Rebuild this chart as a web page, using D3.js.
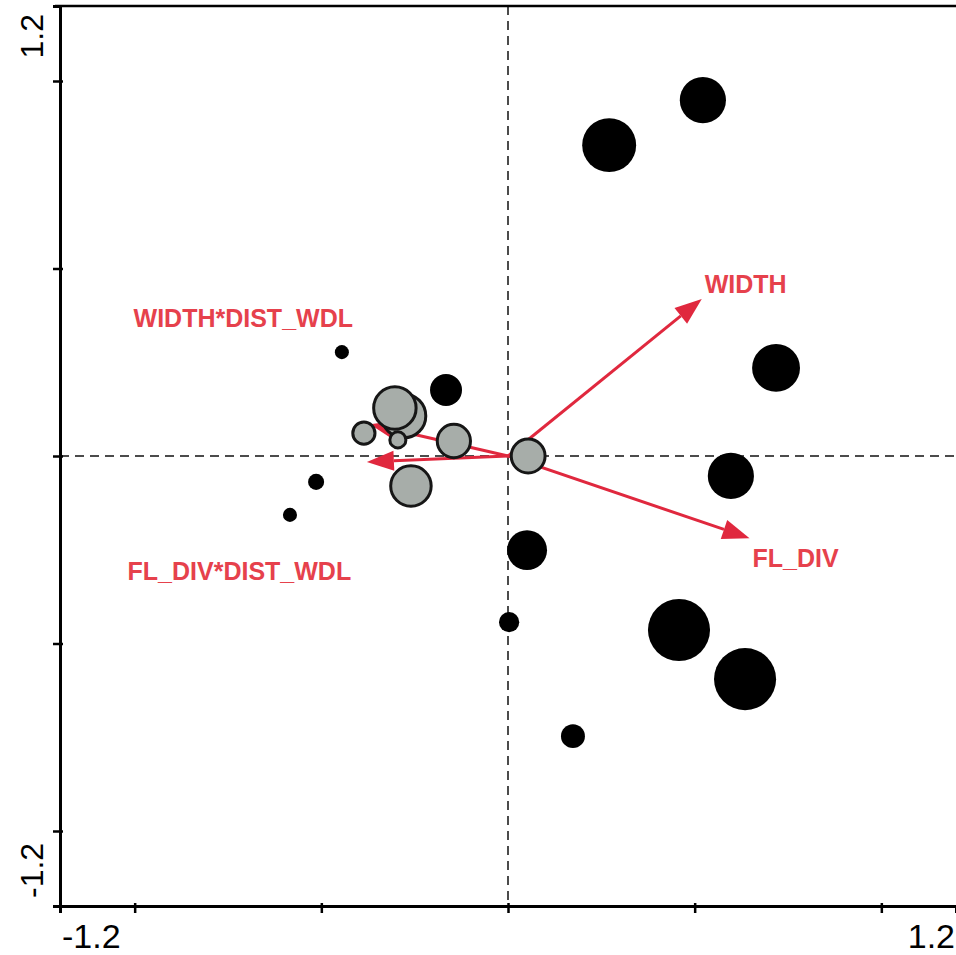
<!DOCTYPE html>
<html>
<head>
<meta charset="utf-8">
<script src="https://cdn.jsdelivr.net/npm/d3@7"></script>
<style>
  html, body { margin: 0; padding: 0; background: #fff; }
  svg { display: block; }
</style>
</head>
<body>
<svg id="chart" width="956" height="955"></svg>
<script>
// Ordination biplot: site scores (circles sized by weight) and environmental vectors.

// Site scores on axes 1 and 2
const siteX      = [0.522, 0.271, 0.718, 0.597, 0.051, 0.458, 0.635, 0.174, 0.003, -0.166, -0.445, -0.514, -0.584,
                    0.054, -0.145, -0.279, -0.303, -0.386, -0.295, -0.260];
const siteY      = [0.949, 0.829, 0.235, -0.053, -0.251, -0.464, -0.595, -0.747, -0.443, 0.176, 0.277, -0.069, -0.157,
                    0.000, 0.040, 0.107, 0.128, 0.061, 0.043, -0.080];
const siteWeight = [52, 71, 56, 52, 39, 94, 94, 14, 10, 25, 4.8, 6.3, 4.8,
                    28, 27, 47, 44, 12, 6.3, 40];
const siteGroup  = ["A","A","A","A","A","A","A","A","A","A","A","A","A",
                    "B","B","B","B","B","B","B"];

// Environmental variables (vector tips) and their label anchors
const envNames  = ["WIDTH", "FL_DIV", "WIDTH*DIST_WDL", "FL_DIV*DIST_WDL"];
const envX      = [0.519, 0.647, -0.370, -0.378];
const envY      = [0.419, -0.219, 0.085, -0.016];
const envLabelX = [0.527, 0.655, -1.003, -1.019];
const envLabelY = [0.434, -0.297, 0.344, -0.331];

// Axis range and tick marks
const axisMin = -1.2, axisMax = 1.2;
const tickValues = [-1, -0.5, 0, 0.5, 1];
const tickLabels = ["-1.2", "1.2"];

const svg = d3.select("#chart");
const x = d3.scaleLinear().domain([axisMin, axisMax]).range([60, 956]);
const y = d3.scaleLinear().domain([axisMin, axisMax]).range([906, 6]);
const r = d3.scaleSqrt().domain([0, 100]).range([0, 32]);

const red = "#e0283e";
const redText = "#e6414c";

// Zero reference lines
svg.append("line")
  .attr("x1", x(0)).attr("x2", x(0)).attr("y1", y(axisMax)).attr("y2", y(axisMin))
  .attr("stroke", "#111").attr("stroke-width", 1.5).attr("stroke-dasharray", "9,6");
svg.append("line")
  .attr("x1", x(axisMin)).attr("x2", x(axisMax)).attr("y1", y(0)).attr("y2", y(0))
  .attr("stroke", "#111").attr("stroke-width", 1.5).attr("stroke-dasharray", "9,6");

// Axes
const xAxis = d3.axisBottom(x).tickValues(tickValues).tickSize(7).tickFormat("");
const yAxis = d3.axisLeft(y).tickValues(tickValues).tickSize(7).tickFormat("");
const gx = svg.append("g").attr("transform", `translate(0,${y(axisMin)})`).call(xAxis);
const gy = svg.append("g").attr("transform", `translate(${x(axisMin)},0)`).call(yAxis);
[gx, gy].forEach(g => {
  g.select(".domain").attr("stroke", "#000").attr("stroke-width", 3);
  g.selectAll(".tick line").attr("stroke", "#000").attr("stroke-width", 2.5);
});
gx.selectAll(".tick line").attr("y1", -3);
gy.selectAll(".tick line").attr("x1", 3);
// Top frame line
svg.append("line")
  .attr("x1", x(axisMin) - 5).attr("x2", x(axisMax)).attr("y1", y(axisMax)).attr("y2", y(axisMax))
  .attr("stroke", "#000").attr("stroke-width", 2.5);

// End labels of the axes
const axisFont = "'Liberation Sans', Arial, sans-serif";
svg.append("text").attr("x", x(axisMin) + 2).attr("y", 948)
  .attr("font-family", axisFont).attr("font-size", 34).attr("text-anchor", "start")
  .text(tickLabels[0]);
svg.append("text").attr("x", x(axisMax) - 1).attr("y", 948)
  .attr("font-family", axisFont).attr("font-size", 34).attr("text-anchor", "end")
  .text(tickLabels[1]);
svg.append("text").attr("transform", `translate(43,${y(axisMax) + 8}) rotate(-90)`)
  .attr("font-family", axisFont).attr("font-size", 32).attr("text-anchor", "end")
  .text(tickLabels[1]);
svg.append("text").attr("transform", `translate(43,${y(axisMin) - 8}) rotate(-90)`)
  .attr("font-family", axisFont).attr("font-size", 32).attr("text-anchor", "start")
  .text(tickLabels[0]);

// Environmental vectors
const headLen = 27, headHalf = 10;
const vectors = svg.append("g");
envNames.forEach((name, i) => {
  const x0 = x(0), y0 = y(0), x1 = x(envX[i]), y1 = y(envY[i]);
  const ang = Math.atan2(y1 - y0, x1 - x0);
  const bx = x1 - headLen * Math.cos(ang), by = y1 - headLen * Math.sin(ang);
  vectors.append("line")
    .attr("x1", x0).attr("y1", y0).attr("x2", bx).attr("y2", by)
    .attr("stroke", red).attr("stroke-width", 3);
  const px = -Math.sin(ang) * headHalf, py = Math.cos(ang) * headHalf;
  vectors.append("path")
    .attr("d", `M${x1},${y1}L${bx + px},${by + py}L${bx - px},${by - py}Z`)
    .attr("fill", red);
  svg.append("text")
    .attr("x", x(envLabelX[i])).attr("y", y(envLabelY[i]))
    .attr("font-family", axisFont).attr("font-size", 25).attr("font-weight", "bold")
    .attr("fill", redText)
    .text(name);
});

// Site circles
const idx = d3.range(siteX.length);
svg.append("g").selectAll("circle")
  .data(idx)
  .join("circle")
  .attr("cx", i => x(siteX[i]))
  .attr("cy", i => y(siteY[i]))
  .attr("r", i => r(siteWeight[i]))
  .attr("fill", i => siteGroup[i] === "A" ? "#000" : "#a7ada9")
  .attr("stroke", i => siteGroup[i] === "A" ? "none" : "#161616")
  .attr("stroke-width", 3);
</script>
</body>
</html>
